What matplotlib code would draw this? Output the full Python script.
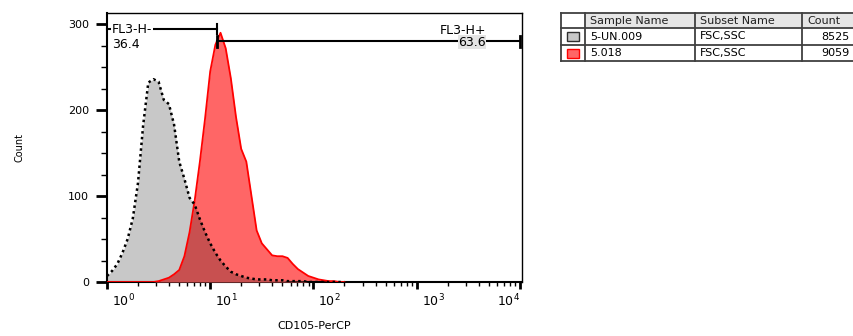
import numpy as np
import matplotlib
matplotlib.use("Agg")
import matplotlib.pyplot as plt
import matplotlib.transforms as mtransforms
from matplotlib.patches import Rectangle
from matplotlib.ticker import LogLocator, MultipleLocator, NullFormatter

# histogram bins (log10 of CD105-PerCP channel)
bin_log = [0.00, 0.05, 0.10, 0.15, 0.20, 0.25, 0.30, 0.35, 0.40, 0.45,
           0.50, 0.55, 0.60, 0.65, 0.70, 0.75, 0.80, 0.85, 0.90, 0.95,
           1.00, 1.05, 1.10, 1.15, 1.20, 1.25, 1.30, 1.35, 1.40, 1.45,
           1.50, 1.55, 1.60, 1.65, 1.70, 1.75, 1.80, 1.85, 1.90, 1.95,
           2.00, 2.05, 2.10, 2.15, 2.20, 2.25, 2.30]

# unstained control 5-UN.009
count_un = [7, 13, 21, 34, 50, 74, 115, 182, 232, 236,
            233, 212, 207, 183, 140, 120, 98, 90, 73, 58,
            45, 34, 25, 18, 12, 9, 7, 5, 4, 3,
            3, 3, 2, 2, 2, 1, 1, 1, 1, 0,
            0, 0, 0, 0, 0, 0, 0]

# stained sample 5.018
count_st = [0, 0, 0, 0, 0, 0, 0, 0, 0, 0,
            1, 3, 5, 9, 14, 30, 58, 95, 140, 190,
            245, 276, 290, 272, 237, 192, 155, 140, 100, 60,
            45, 38, 31, 30, 30, 28, 21, 15, 11, 7,
            5, 3, 2, 1, 1, 0, 0]

# gates
gate_split = 11.7
gate_neg = ("FL3-H-", "36.4")
gate_pos = ("FL3-H+", "63.6")

# legend table
col_names = ["Sample Name", "Subset Name", "Count"]
sample_names = ["5-UN.009", "5.018"]
subset_names = ["FSC,SSC", "FSC,SSC"]
event_counts = ["8525", "9059"]

GRAY = "#C8C8C8"
RED = "#FF6666"
OVERLAP = "#C85050"

x = 10 ** np.array(bin_log)
un = np.array(count_un)
st = np.array(count_st)

fig = plt.figure(figsize=(8.54, 3.36), dpi=100)
ax = fig.add_axes([107 / 854, 54 / 336, 415 / 854, 269 / 336])

ax.fill_between(x, 0, un, color=GRAY, lw=0, zorder=1)
ax.fill_between(x, 0, st, color=RED, lw=0, zorder=2)
ax.fill_between(x, 0, np.minimum(un, st), color=OVERLAP, lw=0, zorder=3)
ax.plot(x, st, color="#FF0000", lw=1.3, zorder=4)
ax.plot(x, un, color="black", lw=1.8, ls=(0, (1, 1.3)), zorder=5)

ax.set_xscale("log")
ax.set_xlim(1, 1.05e4)
ax.set_ylim(0, 313)

# axes styling
for s in ax.spines.values():
    s.set_linewidth(1.0)
ax.spines["left"].set_linewidth(1.5)
ax.spines["bottom"].set_linewidth(1.5)

ax.yaxis.set_major_locator(MultipleLocator(100))
ax.yaxis.set_minor_locator(MultipleLocator(25))
ax.tick_params(axis="y", which="major", length=8, width=2, labelsize=8, pad=5)
ax.tick_params(axis="y", which="minor", length=4, width=1)

ax.xaxis.set_minor_locator(LogLocator(base=10, subs=np.arange(2, 10), numticks=10))
ax.xaxis.set_minor_formatter(NullFormatter())
ax.set_xticks([1, 10, 100, 1000, 10000])
ax.set_xticklabels(["$10^0$", "$10^1$", "$10^2$", "$10^3$", "$10^4$"])
ax.tick_params(axis="x", which="major", length=5, width=2, labelsize=9, pad=3)
ax.tick_params(axis="x", which="minor", length=3, width=1)
shift = mtransforms.ScaledTranslation(5 / 100, 0, fig.dpi_scale_trans)
labels = ax.get_xticklabels()
for lab in labels[:-1]:
    lab.set_horizontalalignment("left")
    lab.set_transform(lab.get_transform() + shift)
labels[-1].set_horizontalalignment("right")

ax.set_ylabel("Count", fontsize=7, labelpad=31)
ax.set_xlabel("CD105-PerCP", fontsize=8, labelpad=8)

# gate markers
y_neg, y_pos = 294, 280
ax.plot([1, gate_split], [y_neg, y_neg], color="black", lw=1.5, zorder=6, clip_on=False)
ax.plot([gate_split, gate_split], [y_neg - 6, y_neg + 6], color="black", lw=1.5, zorder=6)
ax.plot([gate_split, 1e4], [y_pos, y_pos], color="black", lw=1.5, zorder=6)
ax.plot([gate_split, gate_split], [y_pos - 6, y_pos + 6], color="black", lw=2, zorder=6)
ax.plot([1e4, 1e4], [y_pos - 6, y_pos + 6], color="black", lw=2, zorder=6)

gfont = dict(fontsize=9, zorder=7, va="center")
ax.text(1.12, y_neg, gate_neg[0], ha="left",
        bbox=dict(facecolor="white", edgecolor="none", pad=0.5), **gfont)
ax.text(1.12, 276, gate_neg[1], ha="left", **gfont)
ax.text(4700, 293, gate_pos[0], ha="right", **gfont)
ax.text(4700, y_pos - 1, gate_pos[1], ha="right",
        bbox=dict(facecolor="#E4E4E4", edgecolor="none", pad=0.2), **gfont)

# legend table in figure pixel coordinates
tab = fig.add_axes([0, 0, 1, 1], facecolor="none")
tab.set_xlim(0, 854)
tab.set_ylim(336, 0)
tab.axis("off")

col_x = [561, 585, 695, 802, 870]
row_y = [13, 28, 45, 61]
tab.add_patch(Rectangle((585, 13), 870 - 585, 15, facecolor="#E6E6E6", edgecolor="none"))
for cx in col_x:
    tab.plot([cx, cx], [row_y[0], row_y[-1]], color="#404040", lw=1.3)
for ry in row_y:
    tab.plot([col_x[0], col_x[-1]], [ry, ry], color="#404040", lw=1.3)

tfont = dict(fontsize=8, va="center")
for i, name in enumerate(col_names):
    tab.text(col_x[i + 1] + 5, 20.5, name, ha="left", color="#202020", **tfont)

swatch_face = [GRAY, RED]
swatch_edge = ["#303030", "#FF0000"]
for r in range(2):
    cy = (row_y[r + 1] + row_y[r + 2]) / 2
    tab.add_patch(Rectangle((567, cy - 4.5), 12, 9, facecolor=swatch_face[r],
                            edgecolor=swatch_edge[r], lw=1))
    tab.text(col_x[1] + 5, cy, sample_names[r], ha="left", **tfont)
    tab.text(col_x[2] + 5, cy, subset_names[r], ha="left", **tfont)
    tab.text(col_x[3] + 48, cy, event_counts[r], ha="right", **tfont)

fig.savefig("out.png", dpi=100)
